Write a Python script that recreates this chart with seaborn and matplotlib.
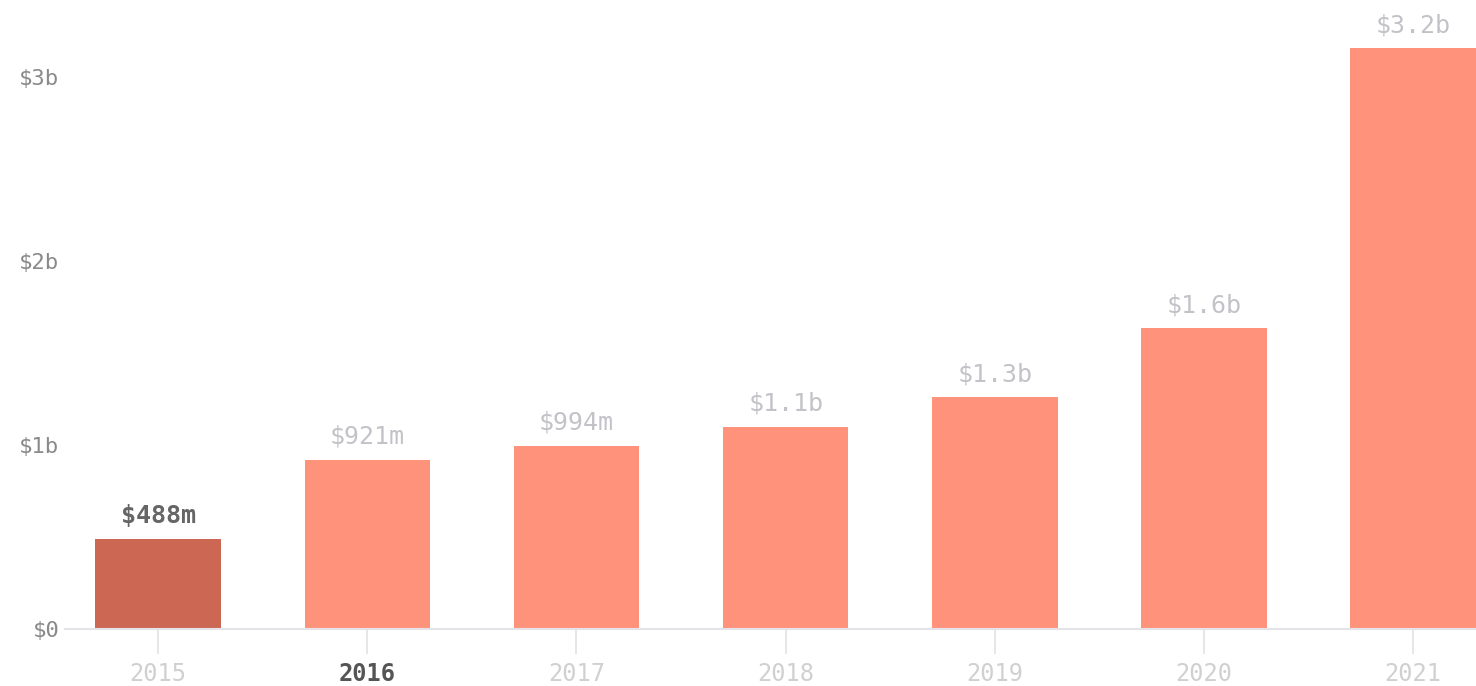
import matplotlib
matplotlib.use("Agg")
import matplotlib.pyplot as plt
import seaborn as sns
import pandas as pd

years = ["2015", "2016", "2017", "2018", "2019", "2020", "2021"]
values_b = [0.488, 0.921, 0.994, 1.10, 1.26, 1.635, 3.155]
value_labels = ["$488m", "$921m", "$994m", "$1.1b", "$1.3b", "$1.6b", "$3.2b"]
y_ticks = [0, 1, 2, 3]
y_tick_labels = ["$0", "$1b", "$2b", "$3b"]
highlight_year = "2015"
bold_tick_year = "2016"

BAR = "#FF927B"
HIGHLIGHT = "#CC6754"

sns.set_theme(style="white")
plt.rcParams["font.family"] = ["DejaVu Sans Mono", "DejaVu Sans"]

df = pd.DataFrame({"year": years, "value": values_b})
palette = {y: (HIGHLIGHT if y == highlight_year else BAR) for y in years}

fig = plt.figure(figsize=(14.76, 6.86), dpi=100)
ax = fig.add_axes([65 / 1476, 57 / 686, 1 - 65 / 1476, 1 - 57 / 686])

sns.barplot(data=df, x="year", y="value", hue="year", palette=palette,
            order=years, hue_order=years, legend=False, width=0.6,
            saturation=1, linewidth=0, ax=ax)

ax.set_xlim(-0.445, 6.3)
ax.set_ylim(0, 3.418)

for i, (v, lab) in enumerate(zip(values_b, value_labels)):
    hl = years[i] == highlight_year
    ax.annotate(lab, (i, v), xytext=(0, 8), textcoords="offset points",
                ha="center", va="bottom", fontsize=18,
                color="#666666" if hl else "#C2C2C8",
                fontweight="bold" if hl else "normal")

ax.set_yticks(y_ticks)
ax.set_yticklabels(y_tick_labels)
ax.tick_params(axis="y", left=False, length=0, pad=4, labelsize=16,
               labelcolor="#8A8A8A")
ax.tick_params(axis="x", bottom=True, length=18, width=1.2, color="#E3E3E8",
               pad=6, labelsize=17)
for t in ax.get_xticklabels():
    if t.get_text() == bold_tick_year:
        t.set_color("#555555")
        t.set_fontweight("bold")
    else:
        t.set_color("#D0D0D0")

ax.set_xlabel("")
ax.set_ylabel("")
for s in ["top", "right", "left"]:
    ax.spines[s].set_visible(False)
ax.spines["bottom"].set_color("#E3E3E8")
ax.spines["bottom"].set_linewidth(1.5)
ax.grid(False)

fig.savefig("out.png", dpi=100, facecolor="white")
